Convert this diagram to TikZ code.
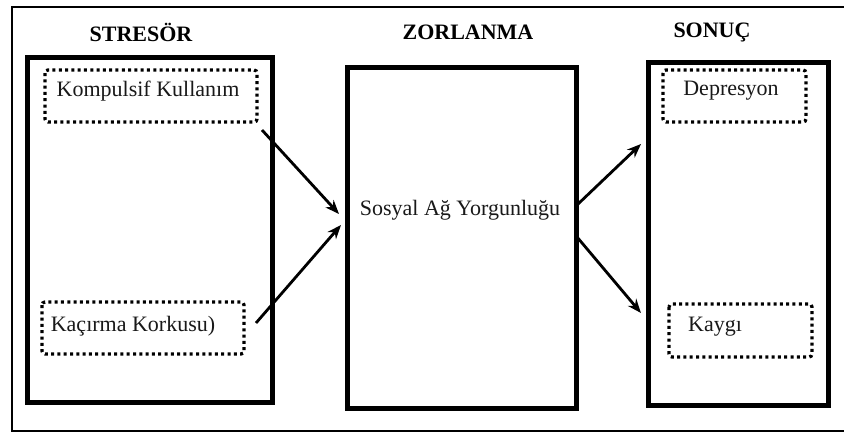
\documentclass[tikz,border=0pt]{standalone}
\usepackage{fontspec}
\setmainfont{Liberation Serif}
\usetikzlibrary{arrows.meta}
\begin{document}
\begin{tikzpicture}[x=1pt,y=-1pt,
  mainbox/.style={line width=5pt},
  dotbox/.style={draw=black,line width=3.3pt,dash pattern=on 3pt off 3.3pt,rounded corners=3pt},
  lbl/.style={font=\fontsize{22}{26}\selectfont,inner sep=0pt,text=black!90},
  head/.style={font=\fontsize{22}{26}\selectfont\bfseries,inner sep=0pt},
  arr/.style={line width=2.8pt,-{Stealth[length=14pt,width=11pt]}}]
\useasboundingbox (0,0) rectangle (844,432);
\clip (0,0) rectangle (844,432);
\fill[white] (0,0) rectangle (844,432);
% outer frame
\draw[line width=2.2pt] (12,7) rectangle (870,431);
% headings
\node[head] (h1) at (141,32) {STRESÖR};
\node[head] (h2) at (468,32) {ZORLANMA};
\node[head] (h3) at (712,32) {SONUÇ};
% main boxes
\draw[mainbox] (27,57) rectangle (272,402);
\draw[mainbox] (347,67) rectangle (576,408);
\draw[mainbox] (648,62) rectangle (828,405);
% dotted boxes
\draw[dotbox] (45,70) rectangle (257,122);
\draw[dotbox] (42,302) rectangle (244,354);
\draw[dotbox] (663,70) rectangle (806,122);
\draw[dotbox] (669,304) rectangle (812,357);
% labels
\node[lbl] (komp) at (148,91) {Kompulsif Kullanım};
\node[lbl] (kac) at (133,326) {Kaçırma Korkusu)};
\node[lbl] (dep) at (731,91) {Depresyon};
\node[lbl] (kay) at (715,327) {Kaygı};
\node[lbl] (sos) at (460,210) {Sosyal Ağ Yorgunluğu};
% arrow end points
\coordinate (a1s) at (262,130);
\coordinate (a1e) at (339,214);
\coordinate (a2s) at (256,323);
\coordinate (a2e) at (341,225);
\coordinate (a3s) at (577,205);
\coordinate (a3e) at (641,144);
\coordinate (a4s) at (577,237);
\coordinate (a4e) at (641,313);
\draw[arr] (a1s) -- (a1e);
\draw[arr] (a2s) -- (a2e);
\draw[arr] (a3s) -- (a3e);
\draw[arr] (a4s) -- (a4e);
\end{tikzpicture}
\end{document}
